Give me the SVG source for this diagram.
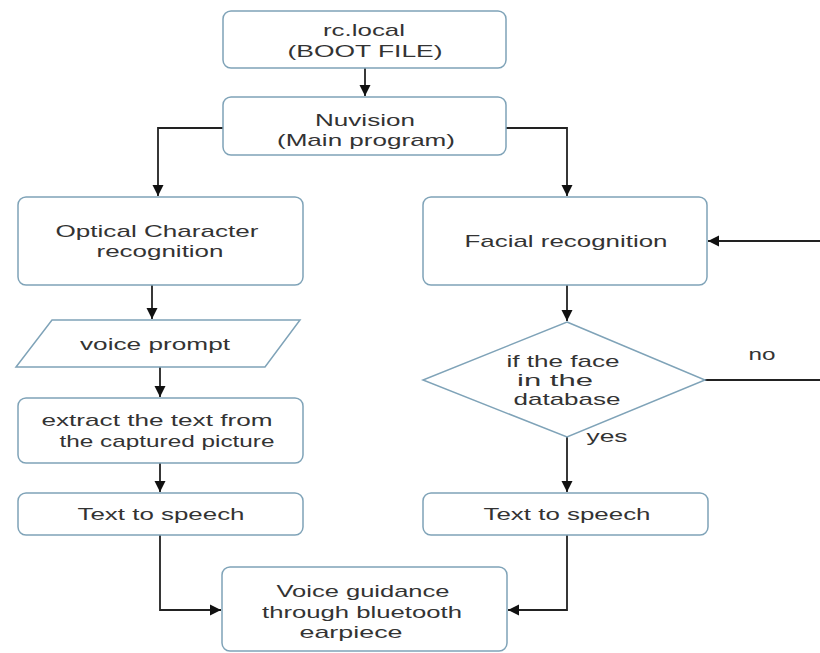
<svg xmlns="http://www.w3.org/2000/svg" width="820" height="653" viewBox="0 0 820 653">
<style>
.n{fill:#fff;stroke:#7fa3b8;stroke-width:1.5}
.t{font-family:"Liberation Sans",Arial,sans-serif;font-size:17px;fill:#333;text-anchor:middle}
.c{fill:none;stroke:#222;stroke-width:1.8}
</style>
<defs>
<marker id="a" markerWidth="12" markerHeight="12" refX="11" refY="6" orient="auto" markerUnits="userSpaceOnUse">
<path d="M0,0.5 L11,6 L0,11.5 Z" fill="#111"/>
</marker>
</defs>
<rect width="820" height="653" fill="#fff"/>
<g id="connectors">
<path class="c" d="M365,68 V96" marker-end="url(#a)"/>
<path class="c" d="M223,128 H158 V196" marker-end="url(#a)"/>
<path class="c" d="M505,128 H567 V196" marker-end="url(#a)"/>
<path class="c" d="M152,285 V319" marker-end="url(#a)"/>
<path class="c" d="M160,367 V397" marker-end="url(#a)"/>
<path class="c" d="M160,463 V492" marker-end="url(#a)"/>
<path class="c" d="M160,535 V610 H221" marker-end="url(#a)"/>
<path class="c" d="M567,285 V321" marker-end="url(#a)"/>
<path class="c" d="M705,380 H820"/>
<path class="c" d="M820,241 H708" marker-end="url(#a)"/>
<path class="c" d="M567,437 V492" marker-end="url(#a)"/>
<path class="c" d="M567,535 V610 H508" marker-end="url(#a)"/>
<text class="t" x="762" y="360" textLength="27" lengthAdjust="spacingAndGlyphs">no</text>
<text class="t" x="607" y="442" textLength="41" lengthAdjust="spacingAndGlyphs">yes</text>
</g>
<g id="rclocal">
<rect class="n" x="223" y="11" width="283" height="57" rx="8"/>
<text class="t" x="364" y="36" textLength="82" lengthAdjust="spacingAndGlyphs">rc.local</text>
<text class="t" x="365" y="57" textLength="155" lengthAdjust="spacingAndGlyphs">(BOOT FILE)</text>
</g>
<g id="nuvision">
<rect class="n" x="223" y="97" width="283" height="58" rx="8"/>
<text class="t" x="365" y="126" textLength="100" lengthAdjust="spacingAndGlyphs">Nuvision</text>
<text class="t" x="366" y="146" textLength="178" lengthAdjust="spacingAndGlyphs">(Main program)</text>
</g>
<g id="ocr">
<rect class="n" x="18" y="197" width="285" height="88" rx="8"/>
<text class="t" x="157" y="237" textLength="203" lengthAdjust="spacingAndGlyphs">Optical Character</text>
<text class="t" x="160" y="257" textLength="127" lengthAdjust="spacingAndGlyphs">recognition</text>
</g>
<g id="voiceprompt">
<polygon class="n" points="52,320 300,320 265,367 16,367"/>
<text class="t" x="155" y="350" textLength="150" lengthAdjust="spacingAndGlyphs">voice prompt</text>
</g>
<g id="extract">
<rect class="n" x="18" y="398" width="285" height="65" rx="8"/>
<text class="t" x="157" y="426" textLength="231" lengthAdjust="spacingAndGlyphs">extract the text from</text>
<text class="t" x="167" y="447" textLength="215" lengthAdjust="spacingAndGlyphs">the captured picture</text>
</g>
<g id="tts1">
<rect class="n" x="18" y="493" width="285" height="42" rx="8"/>
<text class="t" x="161" y="520" textLength="167" lengthAdjust="spacingAndGlyphs">Text to speech</text>
</g>
<g id="facial">
<rect class="n" x="423" y="197" width="284" height="88" rx="8"/>
<text class="t" x="566" y="247" textLength="203" lengthAdjust="spacingAndGlyphs">Facial recognition</text>
</g>
<g id="decision">
<polygon class="n" points="567,322 705,380 567,437 423,380"/>
<text class="t" x="563" y="367" textLength="113" lengthAdjust="spacingAndGlyphs">if the face</text>
<text class="t" x="555" y="386" textLength="76" lengthAdjust="spacingAndGlyphs">in the</text>
<text class="t" x="567" y="405" textLength="107" lengthAdjust="spacingAndGlyphs">database</text>
</g>
<g id="tts2">
<rect class="n" x="423" y="493" width="285" height="42" rx="8"/>
<text class="t" x="567" y="520" textLength="167" lengthAdjust="spacingAndGlyphs">Text to speech</text>
</g>
<g id="voiceguidance">
<rect class="n" x="222" y="567" width="285" height="84" rx="8"/>
<text class="t" x="363" y="597" textLength="173" lengthAdjust="spacingAndGlyphs">Voice guidance</text>
<text class="t" x="362" y="618" textLength="200" lengthAdjust="spacingAndGlyphs">through bluetooth</text>
<text class="t" x="351" y="638" textLength="103" lengthAdjust="spacingAndGlyphs">earpiece</text>
</g>
</svg>
